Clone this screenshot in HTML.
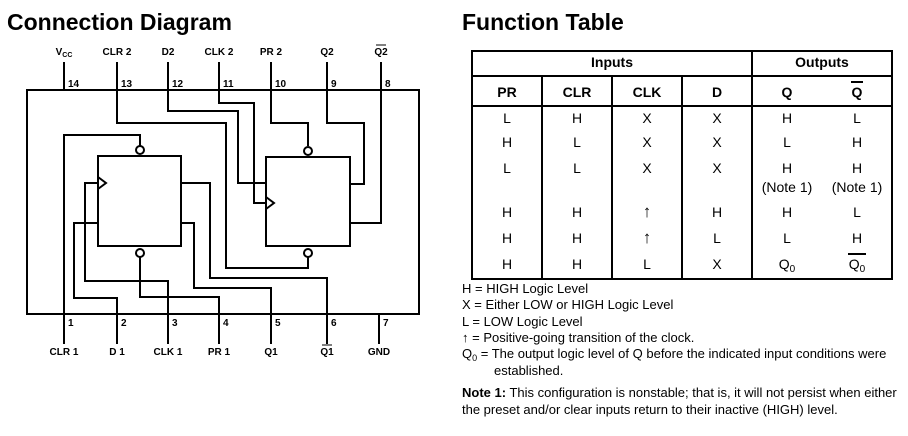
<!DOCTYPE html>
<html><head><style>
body{margin:0;background:#fff;width:908px;height:431px;overflow:hidden}
svg text{font-family:"Liberation Sans",sans-serif}
</style></head><body>
<svg width="908" height="431" viewBox="0 0 908 431" xmlns="http://www.w3.org/2000/svg">
<text x="7" y="30" font-size="23" font-weight="bold">Connection Diagram</text>
<text x="462" y="30" font-size="23" font-weight="bold">Function Table</text>
<g fill="none" stroke="#000" stroke-width="2">
<rect x="27" y="90" width="392" height="224"/>
<path d="M64 62V90M117 62V90M168 62V90M219 62V90M271 62V90M327 62V90M381 62V90"/>
<path d="M64 314V344M117 314V344M168 314V344M219 314V344M271 314V344M327 314V344M379 314V344"/>
<rect x="98" y="156" width="83" height="90"/>
<rect x="266" y="157" width="84" height="89"/>
<circle cx="140" cy="150" r="4"/><circle cx="140" cy="253" r="4"/>
<circle cx="308" cy="151" r="4"/><circle cx="308" cy="253" r="4"/>
<path d="M98 177L106 183L98 189"/><path d="M266 197L274 203L266 209"/>
<path d="M117 90V123H226V268H308V257"/>
<path d="M168 90V111H238V183H266"/>
<path d="M219 90V103H254V203H266"/>
<path d="M271 90V123H308V146"/>
<path d="M327 90V123H364V184H350"/>
<path d="M381 90V223H350"/>
<path d="M64 314V135H140V146"/>
<path d="M117 314V298H74V223H98"/>
<path d="M168 314V281H85V183H98"/>
<path d="M219 314V297H140V257"/>
<path d="M271 314V288H194V223H181"/>
<path d="M327 314V278H210V183H181"/>
</g>
<g font-size="10" font-weight="bold" text-anchor="middle">
<text x="64" y="55">V<tspan font-size="7" dy="2">CC</tspan></text>
<text x="117" y="55">CLR 2</text><text x="168" y="55">D2</text><text x="219" y="55">CLK 2</text>
<text x="271" y="55">PR 2</text><text x="327" y="55">Q2</text><text x="381" y="55">Q2</text>
<path d="M376 45H386" stroke="#000" stroke-width="1"/>
<text x="64" y="355">CLR 1</text><text x="117" y="355">D 1</text><text x="168" y="355">CLK 1</text>
<text x="219" y="355">PR 1</text><text x="271" y="355">Q1</text><text x="327" y="355">Q1</text>
<path d="M322 345H332" stroke="#000" stroke-width="1"/>
<text x="379" y="355">GND</text>
</g>
<g font-size="10" font-weight="bold">
<text x="68" y="87">14</text><text x="121" y="87">13</text><text x="172" y="87">12</text><text x="223" y="87">11</text><text x="275" y="87">10</text><text x="331" y="87">9</text><text x="385" y="87">8</text>
<text x="68" y="326">1</text><text x="121" y="326">2</text><text x="172" y="326">3</text><text x="223" y="326">4</text><text x="275" y="326">5</text><text x="331" y="326">6</text><text x="383" y="326">7</text>
</g>
<g fill="none" stroke="#000" stroke-width="2">
<rect x="472" y="51" width="420" height="228"/>
<path d="M472 76H892M472 106H892M752 51V279M542 76V279M612 76V279M682 76V279"/>
</g>
<g font-size="14" text-anchor="middle">
<g font-weight="bold"><text x="612" y="67">Inputs</text><text x="822" y="67">Outputs</text>
<text x="507" y="97">PR</text><text x="577" y="97">CLR</text><text x="647" y="97">CLK</text><text x="717" y="97">D</text><text x="787" y="97">Q</text><text x="857" y="97">Q</text></g>
<path d="M851 82H863" stroke="#000" stroke-width="2"/>
<text x="507" y="123">L</text><text x="577" y="123">H</text><text x="647" y="123">X</text><text x="717" y="123">X</text><text x="787" y="123">H</text><text x="857" y="123">L</text>
<text x="507" y="147">H</text><text x="577" y="147">L</text><text x="647" y="147">X</text><text x="717" y="147">X</text><text x="787" y="147">L</text><text x="857" y="147">H</text>
<text x="507" y="173">L</text><text x="577" y="173">L</text><text x="647" y="173">X</text><text x="717" y="173">X</text><text x="787" y="173">H</text><text x="857" y="173">H</text>
<text x="787" y="192">(Note 1)</text><text x="857" y="192">(Note 1)</text>
<text x="507" y="217">H</text><text x="577" y="217">H</text><text x="647" y="217" font-size="17">↑</text><text x="717" y="217">H</text><text x="787" y="217">H</text><text x="857" y="217">L</text>
<text x="507" y="243">H</text><text x="577" y="243">H</text><text x="647" y="243" font-size="17">↑</text><text x="717" y="243">L</text><text x="787" y="243">L</text><text x="857" y="243">H</text>
<text x="507" y="269">H</text><text x="577" y="269">H</text><text x="647" y="269">L</text><text x="717" y="269">X</text><text x="787" y="269">Q<tspan font-size="10" dy="3">0</tspan></text><text x="857" y="269">Q<tspan font-size="10" dy="3">0</tspan></text>
<path d="M848 254H866" stroke="#000" stroke-width="2"/>
</g>
<g font-size="13">
<text x="462" y="293">H = HIGH Logic Level</text>
<text x="462" y="309">X = Either LOW or HIGH Logic Level</text>
<text x="462" y="326">L = LOW Logic Level</text>
<text x="462" y="342">↑ = Positive-going transition of the clock.</text>
<text x="462" y="358">Q<tspan font-size="9" dy="3">0</tspan><tspan dy="-3"> = The output logic level of Q before the indicated input conditions were</tspan></text>
<text x="494" y="375">established.</text>
<text x="462" y="397"><tspan font-weight="bold">Note 1:</tspan> This configuration is nonstable; that is, it will not persist when either</text>
<text x="462" y="414">the preset and/or clear inputs return to their inactive (HIGH) level.</text>
</g>
</svg>
</body></html>
